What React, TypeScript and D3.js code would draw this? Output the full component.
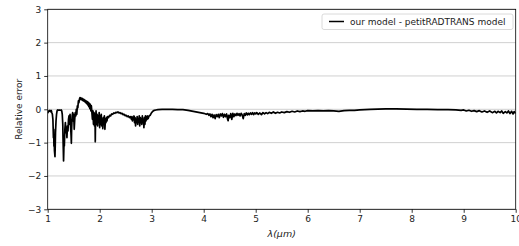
import React, { useEffect, useRef } from 'react';
import * as d3 from 'd3';

const xTicks = [1, 2, 3, 4, 5, 6, 7, 8, 9, 10];
const yTicks = [-3, -2, -1, 0, 1, 2, 3];
const legendLabel = 'our model - petitRADTRANS model';
const xLabel = 'λ(μm)';
const yLabel = 'Relative error';

// [wavelength (um), relative error]
const relError: [number, number][] = [
  [1.0, -0.12], [1.01, -0.08], [1.02, -0.05], [1.03, -0.06], [1.04, -0.03], [1.05, -0.05],
  [1.06, -0.08], [1.07, -0.04], [1.08, -0.1], [1.09, -0.15], [1.1, -0.3], [1.11, -0.85],
  [1.115, -0.6], [1.12, -1.1], [1.125, -0.9], [1.13, -1.25], [1.14, -1.42], [1.145, -1.1],
  [1.15, -0.7], [1.16, -0.35], [1.17, -0.15], [1.18, -0.05], [1.19, -0.02], [1.2, -0.03],
  [1.22, -0.02], [1.24, -0.03], [1.26, -0.02], [1.27, -0.05], [1.28, -0.15], [1.29, -0.45],
  [1.295, -0.9], [1.3, -1.2], [1.305, -1.55], [1.31, -1.25], [1.315, -0.9], [1.32, -1.1],
  [1.33, -0.6], [1.34, -0.4], [1.35, -0.7], [1.36, -0.55], [1.37, -0.85], [1.38, -0.5],
  [1.39, -0.65], [1.4, -0.3], [1.41, -0.2], [1.42, -0.45], [1.43, -0.15], [1.44, -0.5],
  [1.45, -0.8], [1.455, -1.02], [1.46, -0.6], [1.47, -0.2], [1.48, -0.1], [1.49, -0.35],
  [1.5, -0.15], [1.51, -0.6], [1.52, -0.3], [1.53, -0.1], [1.54, -0.2], [1.55, 0.0],
  [1.56, -0.15], [1.57, 0.1], [1.58, 0.05], [1.59, 0.25], [1.6, 0.2], [1.61, 0.3],
  [1.62, 0.35], [1.63, 0.3], [1.64, 0.34], [1.65, 0.29], [1.66, 0.33], [1.67, 0.27],
  [1.68, 0.31], [1.69, 0.25], [1.7, 0.29], [1.71, 0.23], [1.72, 0.27], [1.73, 0.2],
  [1.74, 0.25], [1.75, 0.17], [1.76, 0.23], [1.77, 0.13], [1.78, 0.21], [1.79, 0.08],
  [1.8, 0.18], [1.81, 0.02], [1.82, 0.15], [1.83, -0.05], [1.84, 0.1], [1.85, -0.1],
  [1.86, -0.3], [1.87, -0.05], [1.88, -0.45], [1.89, -0.1], [1.9, -0.5], [1.91, -0.15],
  [1.915, -0.97], [1.92, -0.3], [1.93, -0.05], [1.94, -0.45], [1.95, -0.15], [1.96, -0.5],
  [1.97, -0.2], [1.98, -0.35], [1.99, -0.1], [2.0, -0.55], [2.01, -0.2], [2.02, -0.45],
  [2.03, -0.15], [2.04, -0.5], [2.05, -0.3], [2.06, -0.58], [2.07, -0.25], [2.08, -0.45],
  [2.09, -0.2], [2.1, -0.6], [2.11, -0.3], [2.12, -0.4], [2.13, -0.25], [2.14, -0.35],
  [2.15, -0.22], [2.17, -0.25], [2.19, -0.18], [2.21, -0.2], [2.23, -0.14], [2.25, -0.15],
  [2.27, -0.11], [2.29, -0.12], [2.31, -0.09], [2.33, -0.1], [2.35, -0.08], [2.37, -0.11],
  [2.39, -0.1], [2.41, -0.13], [2.43, -0.12], [2.45, -0.16], [2.47, -0.15], [2.49, -0.19],
  [2.51, -0.18], [2.53, -0.22], [2.55, -0.2], [2.57, -0.25], [2.59, -0.22], [2.61, -0.3],
  [2.62, -0.22], [2.63, -0.35], [2.64, -0.25], [2.65, -0.3], [2.66, -0.2], [2.67, -0.4],
  [2.68, -0.25], [2.69, -0.5], [2.7, -0.3], [2.71, -0.38], [2.72, -0.22], [2.73, -0.45],
  [2.74, -0.3], [2.75, -0.35], [2.76, -0.2], [2.77, -0.5], [2.78, -0.25], [2.79, -0.4],
  [2.8, -0.28], [2.81, -0.45], [2.82, -0.2], [2.83, -0.38], [2.84, -0.3], [2.85, -0.55],
  [2.86, -0.25], [2.87, -0.45], [2.88, -0.2], [2.89, -0.35], [2.9, -0.22], [2.91, -0.3],
  [2.92, -0.2], [2.93, -0.28], [2.95, -0.2], [2.97, -0.18], [2.99, -0.12], [3.01, -0.08],
  [3.03, -0.05], [3.05, -0.03], [3.08, -0.02], [3.12, -0.01], [3.2, 0.0], [3.3, -0.005],
  [3.4, 0.0], [3.5, -0.01], [3.6, -0.01], [3.7, -0.03], [3.8, -0.06], [3.9, -0.09],
  [4.0, -0.12], [4.05, -0.15], [4.08, -0.13], [4.1, -0.18], [4.12, -0.14], [4.14, -0.22],
  [4.16, -0.15], [4.18, -0.25], [4.2, -0.17], [4.22, -0.28], [4.24, -0.16], [4.26, -0.22],
  [4.28, -0.15], [4.3, -0.25], [4.32, -0.14], [4.34, -0.2], [4.36, -0.13], [4.38, -0.24],
  [4.4, -0.15], [4.42, -0.22], [4.44, -0.14], [4.46, -0.3], [4.47, -0.34], [4.48, -0.18],
  [4.5, -0.25], [4.52, -0.13], [4.54, -0.3], [4.56, -0.12], [4.58, -0.22], [4.6, -0.14],
  [4.62, -0.19], [4.64, -0.12], [4.66, -0.18], [4.68, -0.13], [4.7, -0.2], [4.72, -0.12],
  [4.74, -0.17], [4.76, -0.28], [4.78, -0.13], [4.8, -0.18], [4.82, -0.11], [4.84, -0.17],
  [4.86, -0.12], [4.88, -0.16], [4.9, -0.11], [4.92, -0.15], [4.94, -0.1], [4.96, -0.16],
  [4.98, -0.11], [5.0, -0.14], [5.02, -0.1], [5.05, -0.15], [5.08, -0.11], [5.11, -0.16],
  [5.14, -0.1], [5.17, -0.14], [5.2, -0.1], [5.23, -0.13], [5.26, -0.09], [5.3, -0.12],
  [5.34, -0.08], [5.38, -0.12], [5.42, -0.09], [5.46, -0.11], [5.5, -0.08], [5.55, -0.1],
  [5.6, -0.07], [5.65, -0.09], [5.7, -0.06], [5.75, -0.08], [5.8, -0.05], [5.85, -0.07],
  [5.9, -0.05], [5.95, -0.06], [6.0, -0.04], [6.1, -0.05], [6.2, -0.04], [6.3, -0.05],
  [6.4, -0.04], [6.5, -0.05], [6.6, -0.06], [6.7, -0.04], [6.8, -0.03], [6.9, -0.03],
  [7.0, -0.02], [7.1, -0.01], [7.2, 0.0], [7.35, 0.005], [7.5, 0.01], [7.7, 0.01],
  [7.9, 0.005], [8.1, 0.0], [8.3, -0.005], [8.5, -0.01], [8.7, -0.01], [8.85, -0.02],
  [8.95, -0.03], [9.0, -0.02], [9.05, -0.05], [9.1, -0.03], [9.15, -0.06], [9.2, -0.04],
  [9.25, -0.07], [9.3, -0.04], [9.35, -0.08], [9.4, -0.05], [9.45, -0.09], [9.5, -0.05],
  [9.55, -0.1], [9.6, -0.06], [9.63, -0.11], [9.66, -0.06], [9.7, -0.1], [9.73, -0.05],
  [9.76, -0.12], [9.8, -0.07], [9.83, -0.11], [9.86, -0.05], [9.89, -0.13], [9.92, -0.06],
  [9.95, -0.14], [9.97, -0.07], [10.0, -0.12],
];

const W = 519;
const H = 246;
const margin = { top: 9.3, right: 3.3, bottom: 36.7, left: 47.7 };
const font = 'DejaVu Sans, sans-serif';

const App: React.FC = () => {
  const ref = useRef<SVGSVGElement>(null);

  useEffect(() => {
    const svg = d3.select(ref.current);
    svg.selectAll('*').remove();

    const width = W - margin.left - margin.right;
    const height = H - margin.top - margin.bottom;

    const x = d3.scaleLinear().domain([1, 10]).range([0, width]);
    const y = d3.scaleLinear().domain([-3, 3]).range([height, 0]);

    const g = svg.append('g').attr('transform', `translate(${margin.left},${margin.top})`);

    svg
      .append('defs')
      .append('clipPath')
      .attr('id', 'plot-clip')
      .append('rect')
      .attr('width', width)
      .attr('height', height);

    // horizontal grid
    g.append('g')
      .selectAll('line')
      .data(yTicks)
      .join('line')
      .attr('x1', 0)
      .attr('x2', width)
      .attr('y1', (d) => y(d))
      .attr('y2', (d) => y(d))
      .attr('stroke', '#c4c4c4')
      .attr('stroke-width', 0.8);

    g.append('path')
      .datum(relError)
      .attr('clip-path', 'url(#plot-clip)')
      .attr('fill', 'none')
      .attr('stroke', '#000')
      .attr('stroke-width', 1.7)
      .attr('stroke-linejoin', 'round')
      .attr(
        'd',
        d3
          .line<[number, number]>()
          .x((d) => x(d[0]))
          .y((d) => y(d[1]))
      );

    // frame
    g.append('rect')
      .attr('width', width)
      .attr('height', height)
      .attr('fill', 'none')
      .attr('stroke', '#000')
      .attr('stroke-width', 0.8);

    const xAxis = g
      .append('g')
      .attr('transform', `translate(0,${height})`)
      .call(d3.axisBottom(x).tickValues(xTicks).tickSize(3.5).tickPadding(3).tickFormat(d3.format('d')));
    const yAxis = g
      .append('g')
      .call(d3.axisLeft(y).tickValues(yTicks).tickSize(3.5).tickPadding(3).tickFormat(d3.format('d')));

    [xAxis, yAxis].forEach((a) => {
      a.select('.domain').remove();
      a.selectAll('text').attr('font-family', font).attr('font-size', 9).attr('fill', '#222');
      a.selectAll('line').attr('stroke', '#000').attr('stroke-width', 0.8);
    });

    svg
      .append('text')
      .attr('x', margin.left + width / 2)
      .attr('y', 237)
      .attr('text-anchor', 'middle')
      .attr('font-family', font)
      .attr('font-size', 9.5)
      .attr('font-style', 'italic')
      .attr('fill', '#222')
      .text(xLabel);

    svg
      .append('text')
      .attr('transform', `translate(21.5,${margin.top + height / 2}) rotate(-90)`)
      .attr('text-anchor', 'middle')
      .attr('font-family', font)
      .attr('font-size', 9)
      .attr('fill', '#222')
      .text(yLabel);

    // legend
    const lg = svg.append('g');
    lg.append('rect')
      .attr('x', 322)
      .attr('y', 14)
      .attr('width', 191)
      .attr('height', 15.5)
      .attr('rx', 2)
      .attr('fill', '#fff')
      .attr('fill-opacity', 0.8)
      .attr('stroke', '#d0d0d0')
      .attr('stroke-width', 0.8);
    lg.append('line')
      .attr('x1', 329)
      .attr('x2', 344)
      .attr('y1', 21.5)
      .attr('y2', 21.5)
      .attr('stroke', '#000')
      .attr('stroke-width', 1.5);
    lg.append('text')
      .attr('x', 350)
      .attr('y', 24.8)
      .attr('font-family', font)
      .attr('font-size', 9)
      .attr('fill', '#222')
      .text(legendLabel);
  }, []);

  return <svg ref={ref} width={W} height={H} style={{ position: 'absolute', left: 0, top: 0, background: '#fff' }} />;
};

export default App;
